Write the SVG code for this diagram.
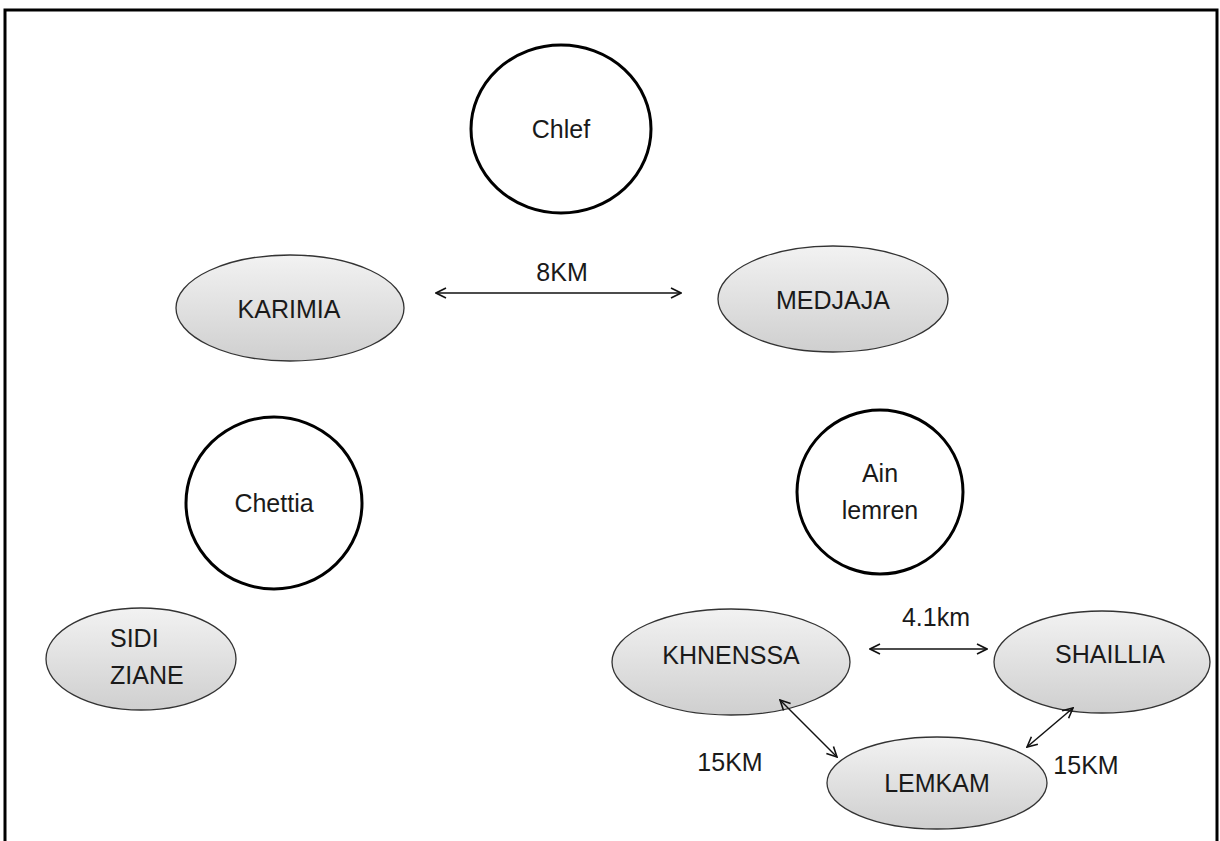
<svg xmlns="http://www.w3.org/2000/svg" width="1220" height="841" viewBox="0 0 1220 841">
<defs>
<linearGradient id="g" x1="0" y1="0" x2="0" y2="1">
<stop offset="0" stop-color="#f2f2f2"/>
<stop offset="1" stop-color="#cfcfcf"/>
</linearGradient>
<marker id="a" viewBox="0 0 12 12" refX="11" refY="6" markerWidth="12" markerHeight="12" markerUnits="userSpaceOnUse" orient="auto-start-reverse">
<path d="M1,1 L11,6 L1,11" fill="none" stroke="#111" stroke-width="1.6"/>
</marker>
</defs>
<style>
.t{font-family:"Liberation Sans",Arial,sans-serif;font-size:25px;fill:#1a1a1a;text-anchor:middle}
.c{fill:#fff;stroke:#000;stroke-width:3}
.e{fill:url(#g);stroke:#333;stroke-width:1.3}
.l{stroke:#111;stroke-width:1.5;fill:none;marker-start:url(#a);marker-end:url(#a)}
</style>
<rect width="1220" height="841" fill="#fff"/>
<path d="M5,845 V10 H1217 V845" fill="none" stroke="#000" stroke-width="3"/>
<g id="chlef"><ellipse class="c" cx="561" cy="129" rx="90" ry="84"/><text class="t" x="561" y="138">Chlef</text></g>
<g id="karimia"><ellipse class="e" cx="290" cy="308" rx="114" ry="53"/><text class="t" x="289" y="318">KARIMIA</text></g>
<g id="medjaja"><ellipse class="e" cx="833" cy="299" rx="115" ry="53"/><text class="t" x="833" y="309">MEDJAJA</text></g>
<g id="chettia"><ellipse class="c" cx="274" cy="503" rx="88" ry="86"/><text class="t" x="274" y="512">Chettia</text></g>
<g id="ainlemren"><ellipse class="c" cx="880" cy="492" rx="83" ry="82"/><text class="t" x="880" y="482">Ain</text><text class="t" x="880" y="519">lemren</text></g>
<g id="sidiziane"><ellipse class="e" cx="141" cy="659" rx="95" ry="51"/><text class="t" x="110" y="647" style="text-anchor:start">SIDI</text><text class="t" x="110" y="684" style="text-anchor:start">ZIANE</text></g>
<g id="khnenssa"><ellipse class="e" cx="731" cy="662" rx="119" ry="53"/><text class="t" x="731" y="664">KHNENSSA</text></g>
<g id="shaillia"><ellipse class="e" cx="1102" cy="662" rx="108" ry="51"/><text class="t" x="1110" y="663">SHAILLIA</text></g>
<g id="lemkam"><ellipse class="e" cx="937" cy="783" rx="110" ry="46"/><text class="t" x="937" y="792">LEMKAM</text></g>
<g id="connectors">
<line class="l" x1="436" y1="293" x2="681" y2="293"/>
<line class="l" x1="870" y1="649" x2="987" y2="649"/>
<line class="l" x1="780" y1="700" x2="837" y2="757"/>
<line class="l" x1="1073" y1="708" x2="1027" y2="747"/>
</g>
<g id="labels">
<text class="t" x="562" y="281">8KM</text>
<text class="t" x="936" y="626">4.1km</text>
<text class="t" x="730" y="771">15KM</text>
<text class="t" x="1086" y="774">15KM</text>
</g>
</svg>
